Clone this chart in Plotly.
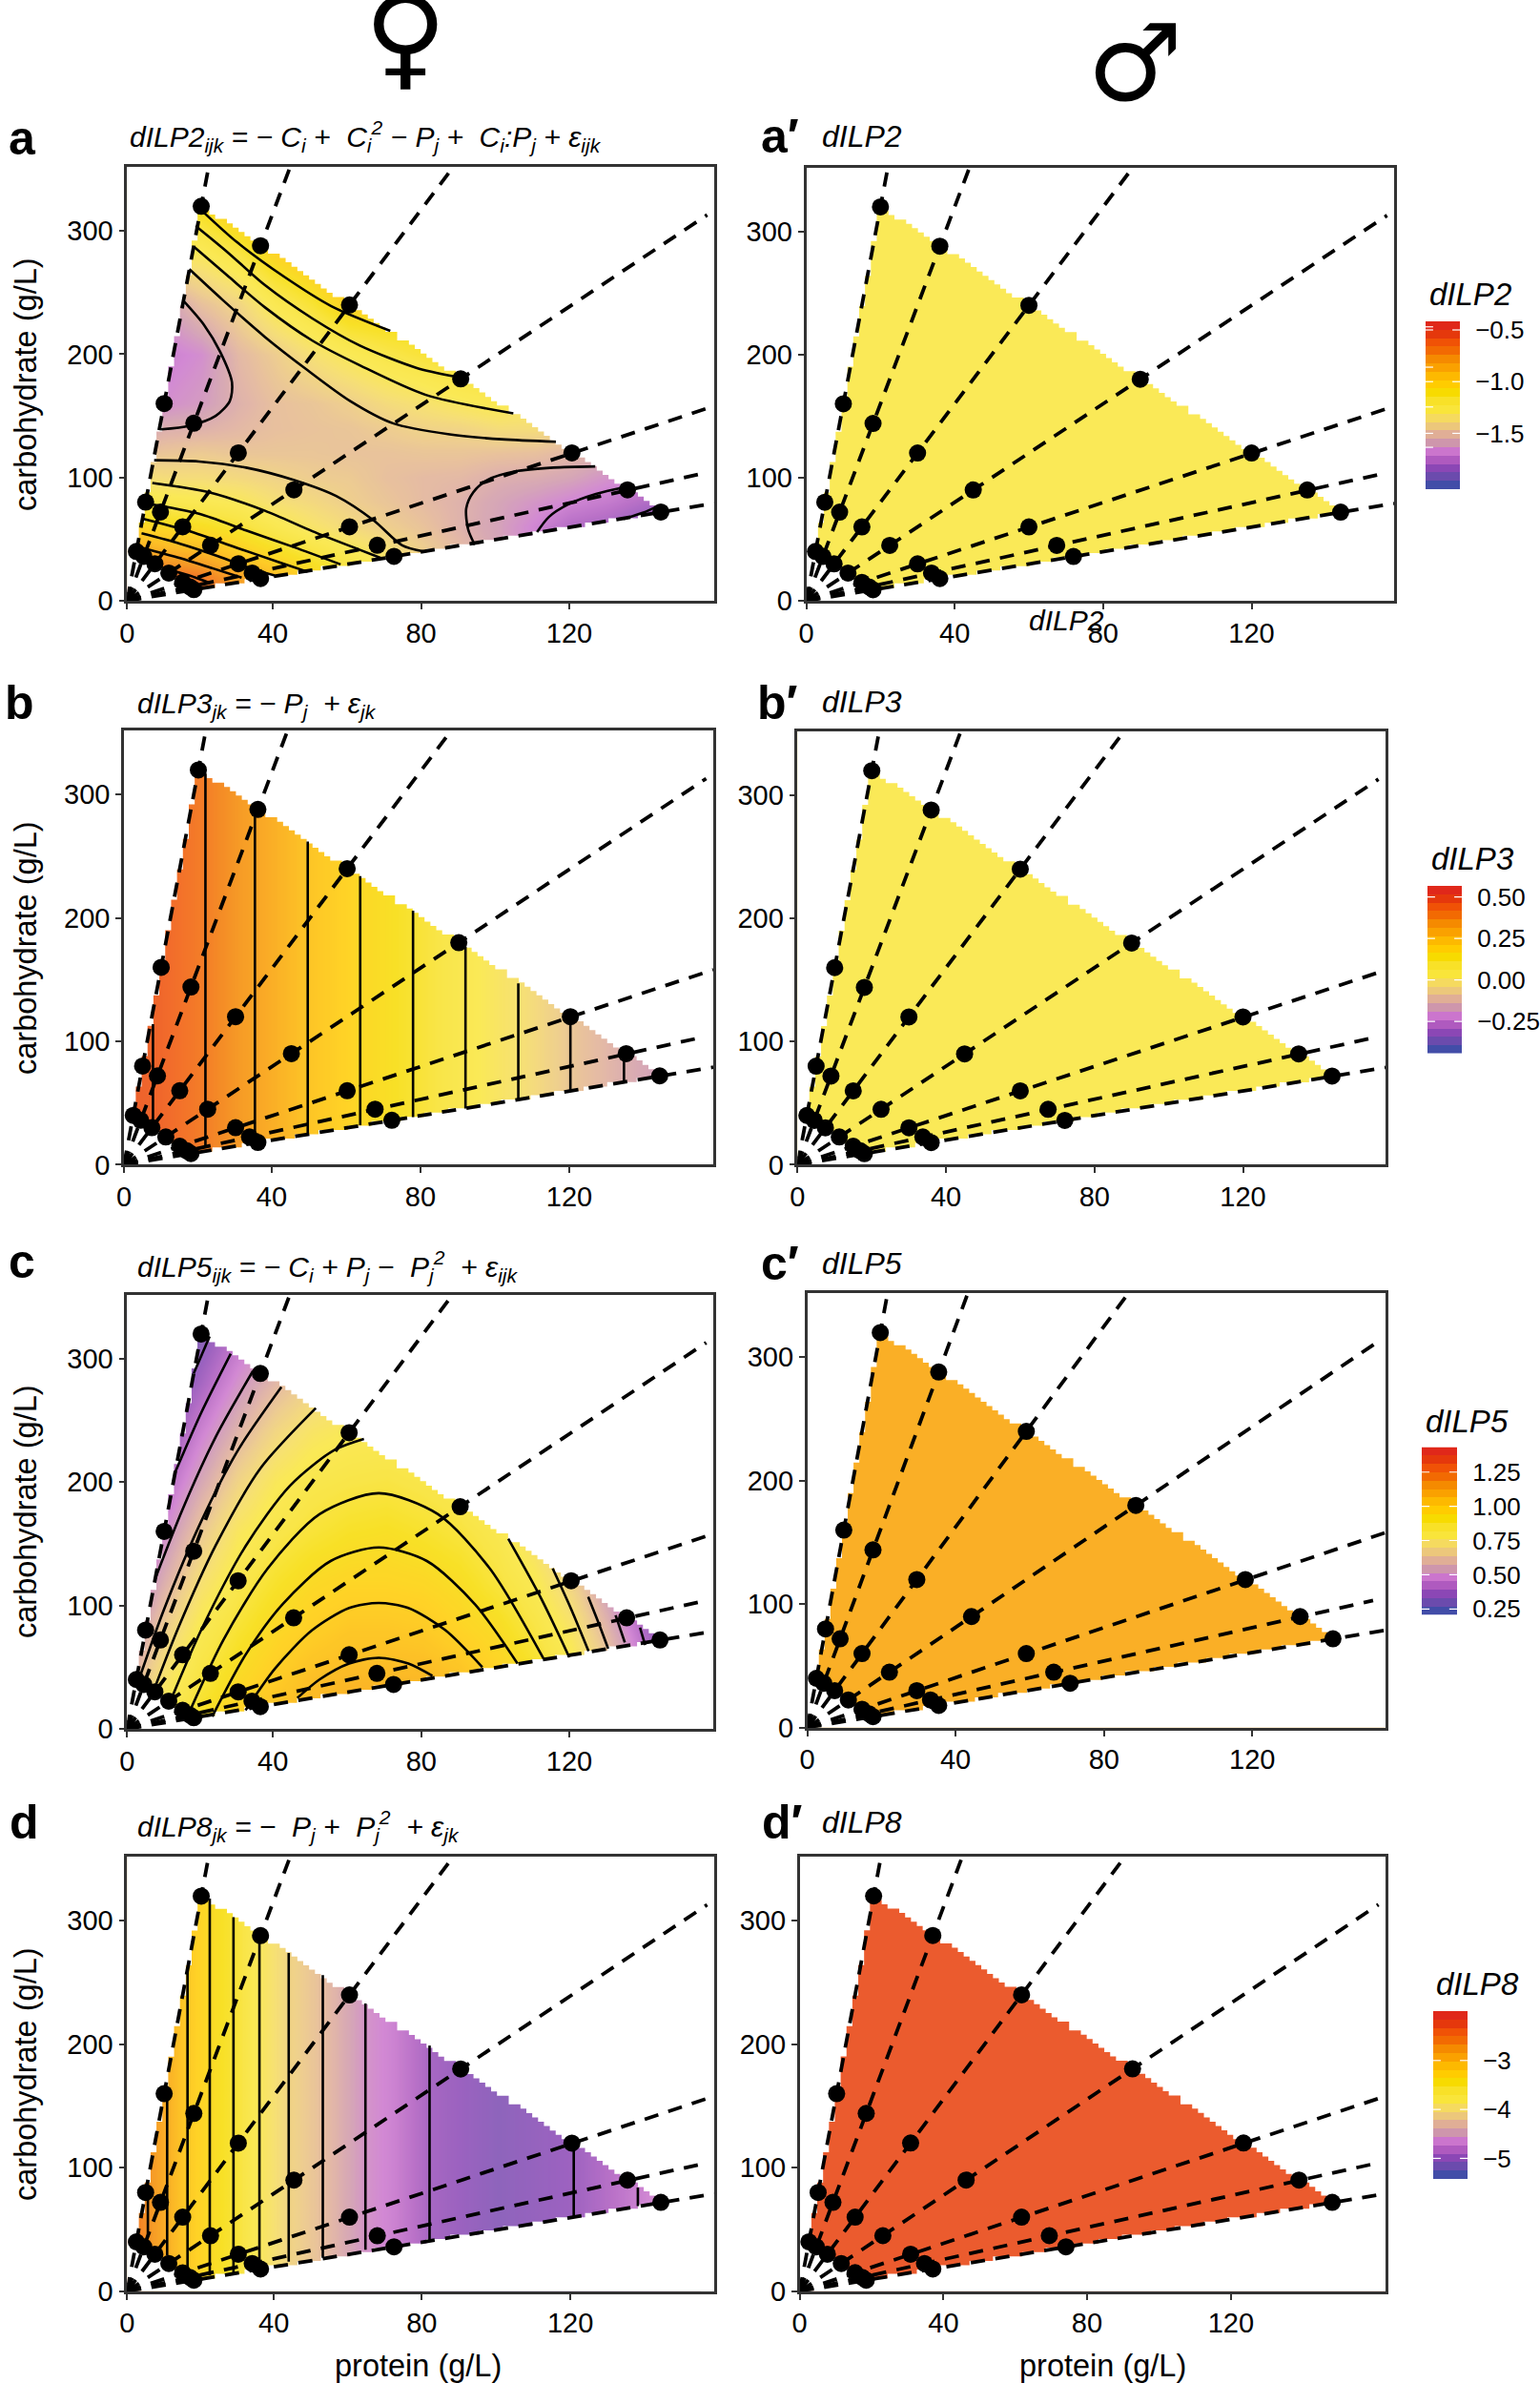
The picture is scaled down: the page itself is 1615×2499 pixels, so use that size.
import numpy as np
import plotly.graph_objects as go

# ---------- data ----------
point_protein = [0, 20, 36, 60, 90, 120, 135, 144, 10, 18, 30, 45, 60, 67.5, 72,
                 5, 9, 15, 22.5, 30, 33.75, 36, 2.5, 4.5, 7.5, 11.25, 15, 16.9, 18]
point_carb = [0, 320, 288, 240, 180, 120, 90, 72, 160, 144, 120, 90, 60, 45, 36,
              80, 72, 60, 45, 30, 22.5, 18, 40, 36, 30, 22.5, 15, 11.25, 9]
ray_end_protein = [22, 44, 88, 156.5, 158.4, 155, 158.4]
ray_end_carb = [352, 352, 352, 313, 158, 103, 79]
hull_protein = [20, 144, 18, 2.5]
hull_carb = [320, 72, 9, 40]

palette = ["#E0281A", "#E5380C", "#F05206", "#F26A02", "#F58A00", "#FAA100", "#FDB900",
           "#FFCC00", "#F7DB00", "#F8E128", "#F9E53A", "#F5DA5F", "#ECC77B", "#E0AE96",
           "#CE96AC", "#CB75CD", "#AF5ABF", "#8B47B5", "#6B4BAD", "#424DA8"]

# surfaces: one list per protein column, values on each legend's scale
grid_protein_10 = [0, 10, 20, 30, 40, 50, 60, 70, 80, 90, 100, 110, 120, 130, 140, 150]
dilp2_f_carb = [0, 20, 40, 60, 80, 100, 120, 140, 160, 200, 240, 280, 320]
dilp2_f_columns = [
    [-.5, -.6, -.8, -1.0, -1.2, -1.34, -1.5, -1.64, -1.77, -1.9, -1.98, -1.71, -1.3],
    [-.5, -.6, -.85, -1.05, -1.23, -1.37, -1.48, -1.57, -1.68, -1.73, -1.64, -1.3, -1.0],
    [-.55, -.66, -.88, -1.08, -1.25, -1.37, -1.46, -1.56, -1.64, -1.68, -1.5, -1.29, -1.07],
    [-.7, -.8, -.98, -1.14, -1.28, -1.39, -1.48, -1.53, -1.56, -1.53, -1.41, -1.19, -.95],
    [-.82, -.9, -1.08, -1.24, -1.35, -1.42, -1.48, -1.5, -1.5, -1.45, -1.25, -1.03, -.9],
    [-.95, -1.02, -1.17, -1.32, -1.39, -1.45, -1.48, -1.49, -1.48, -1.35, -1.14, -.95, -.9],
    [-1.05, -1.12, -1.26, -1.38, -1.44, -1.46, -1.49, -1.48, -1.44, -1.27, -1.0, -.9, -.9],
    [-1.2, -1.25, -1.34, -1.44, -1.48, -1.5, -1.49, -1.45, -1.38, -1.2, -1.0, -.9, -.9],
    [-1.25, -1.32, -1.44, -1.49, -1.52, -1.52, -1.48, -1.42, -1.34, -1.15, -1.0, -.9, -.9],
    [-1.35, -1.45, -1.52, -1.56, -1.56, -1.53, -1.48, -1.41, -1.29, -1.1, -1.0, -.9, -.9],
    [-1.5, -1.57, -1.61, -1.62, -1.61, -1.57, -1.49, -1.37, -1.25, -1.1, -1.0, -.9, -.9],
    [-1.64, -1.68, -1.71, -1.71, -1.66, -1.58, -1.5, -1.37, -1.3, -1.1, -1.0, -.9, -.9],
    [-1.77, -1.81, -1.84, -1.81, -1.71, -1.61, -1.53, -1.44, -1.3, -1.1, -1.0, -.9, -.9],
    [-1.84, -1.87, -1.87, -1.84, -1.75, -1.67, -1.57, -1.44, -1.3, -1.1, -1.0, -.9, -.9],
    [-1.98, -1.98, -1.98, -1.91, -1.81, -1.71, -1.57, -1.44, -1.3, -1.1, -1.0, -.9, -.9],
    [-1.98, -1.98, -1.98, -1.91, -1.81, -1.71, -1.57, -1.44, -1.3, -1.1, -1.0, -.9, -.9],
]
dilp5_f_carb = [0, 40, 80, 120, 160, 200, 240, 280, 320]
dilp5_f_columns = [
    [.65, .55, .46, .37, .3, .25, .22, .2, .2],
    [.82, .75, .66, .56, .47, .38, .3, .25, .22],
    [.93, .87, .81, .73, .64, .54, .45, .36, .29],
    [1.0, .95, .89, .83, .77, .68, .58, .49, .4],
    [1.07, 1.01, .96, .9, .84, .78, .69, .59, .5],
    [1.1, 1.06, 1.0, .95, .88, .83, .76, .67, .57],
    [1.12, 1.08, 1.03, .97, .91, .85, .79, .71, .62],
    [1.12, 1.08, 1.03, .97, .92, .86, .8, .72, .63],
    [1.11, 1.08, 1.02, .96, .9, .84, .78, .7, .6],
    [1.09, 1.05, .98, .93, .87, .81, .73, .64, .54],
    [1.05, .99, .94, .87, .82, .74, .65, .55, .46],
    [.97, .92, .86, .8, .72, .63, .53, .44, .35],
    [.88, .83, .76, .67, .57, .48, .38, .3, .25],
    [.77, .67, .58, .49, .4, .31, .25, .22, .2],
    [.55, .46, .37, .3, .25, .22, .2, .2, .2],
    [.32, .26, .23, .21, .2, .2, .2, .2, .2],
]
dilp3_f_protein = [0, 10, 20, 35, 50, 63, 78, 92, 106, 120, 134, 145, 158]
dilp3_f_values = [.49, .47, .42, .33, .24, .18, .12, .05, -.01, -.09, -.15, -.19, -.22]
dilp8_f_protein = [0, 5, 10, 16, 22, 30, 36, 44, 53, 64, 72, 82, 100, 120, 130, 140, 150]
dilp8_f_values = [-2.45, -2.63, -2.87, -3.15, -3.35, -3.56, -3.84, -4.1, -4.3, -4.62, -4.75,
                  -5.0, -5.15, -5.05, -4.9, -4.72, -4.5]
dilp2_m_value = -1.271
dilp3_m_value = 0.035
dilp5_m_value = 1.11
dilp8_m_value = -2.22

# contour lines (protein list, carbohydrate list)
dilp2_f_contours = [
    ([20.7, 29.6, 42.3, 55.1, 71], [315, 291, 263, 239, 219]),
    ([18.5, 27, 37.2, 50, 62.8, 78, 88.3], [304, 283, 256, 229, 207, 189, 182]),
    ([18.1, 27, 37.2, 50, 62.8, 80.6, 104.2], [287, 264, 238, 211, 191, 167, 152]),
    ([16.8, 25.8, 37.2, 48.7, 60.2, 71.7, 87, 101, 115.7], [269, 244, 214, 187, 162, 144, 135, 131, 129]),
    ([15.3, 20.7, 25.1, 28.3, 27.7, 23.9, 16.8, 9.2], [243, 224, 202, 177, 162, 150, 142, 139]),
    ([7.3, 19.4, 32.1, 44.9, 56.4, 66.6, 74.2, 80], [114, 113, 108, 98, 85, 65, 45, 40]),
    ([6.8, 22.1, 37.2, 50, 62.8, 68.5], [95.6, 88, 73, 56.4, 41.3, 34.6]),
    ([5.4, 19.4, 32.1, 44.9, 57.6], [78.9, 70.5, 57, 43.6, 29.5]),
    ([4.5, 16.8, 29.6, 41.1, 48.7], [66.4, 56.4, 43, 31.2, 23.5]),
    ([3.9, 14.3, 24.5, 33.4, 39.8], [54.7, 46.3, 36.2, 26.2, 20.5]),
    ([4.1, 14.3, 23.2, 30.9], [43, 34.6, 26.2, 18.8]),
    ([9.8, 16.8, 21.9], [26.2, 20.5, 15]),
    ([93.8, 92, 91.5, 93.4, 97.2, 104.8, 115, 126.3], [45.3, 58, 75, 88, 98, 105, 108, 109]),
    ([110.6, 113.8, 118.9, 126.5, 134.2], [55.7, 68, 78, 86.6, 92]),
    ([134, 139.3, 143], [66.4, 71.5, 76.5]),
]
dilp5_f_contours = [
    ([46, 52, 60, 68, 76, 82.5], [25, 40, 53, 57.6, 53, 43]),
    ([32, 40, 50, 60, 68, 76, 86, 96], [15, 49, 80, 98, 102, 98, 80, 50]),
    ([23, 32, 42, 55, 68, 81, 94, 105.5], [10, 60, 101, 136, 147, 136, 101, 53]),
    ([16, 26, 38, 52, 68, 84, 98, 112.5], [8, 72, 130, 174, 191, 174, 130, 57]),
    ([11.5, 20, 32, 44, 56, 64], [21, 80, 148, 197, 226, 235]),
    ([103, 112, 119.5], [154, 105, 58]),
    ([7.2, 14, 24, 36, 51], [31, 83, 149, 211, 260]),
    ([115, 120, 124.7], [130, 97, 63]),
    ([3.2, 10, 20, 30, 41.7], [40, 97, 168, 226, 277]),
    ([124.6, 127.5, 130], [107, 85, 65]),
    ([7.5, 15, 24, 34], [121, 178, 237, 290]),
    ([132, 134.5], [92, 70]),
    ([13, 20, 28], [208, 256, 304]),
    ([138.6, 140], [82, 68]),
    ([18, 22.3], [288, 318]),
]
dilp3_f_level_protein = [7.8, 21.9, 35.2, 49.4, 63.5, 77.7, 91.8, 106, 120, 134.4]
dilp3_f_level_top = [114, 317, 284, 262, 234, 206, 176.5, 147, 114.5, 85.5]
dilp3_f_level_bottom = [33, 14, 22, 25, 32, 38.6, 45.5, 52, 59, 67.5]
dilp8_f_level_protein = [5.6, 10.8, 16.3, 22.3, 28.7, 35.7, 43.6, 52.8, 64.3, 81.6, 120.5, 137.8]
dilp8_f_level_top = [74.6, 158, 262, 318, 303, 284, 274, 256, 233, 199, 117, 84]
dilp8_f_level_bottom = [44.7, 29, 19.5, 13, 13, 18, 24, 27, 33.7, 41.5, 60, 69]

# tick marks as they fall in each panel, and their labels
x_tick_labels = ["0", "40", "80", "120"]
y_tick_labels = ["0", "100", "200", "300"]
y_ticks = [0, 100, 200, 300]
x_ticks_a = [0, 39.3, 79.3, 119.3]
x_ticks_a_m = [0, 40, 80, 120]
x_ticks_b = [0, 39.7, 79.7, 119.7]
x_ticks_b_m = [0, 40, 80, 120]
x_ticks_c = [0, 39.4, 79.5, 119.5]
x_ticks_c_m = [0, 40.6, 81.3, 121.9]
x_ticks_d = [0, 39.6, 79.5, 119.6]
x_ticks_d_m = [0, 38.9, 77.7, 116.6]

legend2_ticks, legend2_labels = [-0.5, -1.0, -1.5], ["−0.5", "−1.0", "−1.5"]
legend2_extra_ticks = [-0.47, -0.86, -1.245, -1.635]
legend3_ticks, legend3_labels = [0.5, 0.25, 0, -0.25], ["0.50", "0.25", "0.00", "−0.25"]
legend5_ticks, legend5_labels = [1.25, 1.0, 0.75, 0.5, 0.25], ["1.25", "1.00", "0.75", "0.50", "0.25"]
legend8_ticks, legend8_labels = [-3, -4, -5], ["−3", "−4", "−5"]

# ---------- page geometry ----------
W, H = 1615, 2499
X_MAX, Y_MAX = 158.4, 352
FONT = "Liberation Sans"
colorscale = [[i / 19, c] for i, c in enumerate(palette[::-1])]


def rows(columns):
    return [list(r) for r in zip(*columns)]


def constant(v):
    return [[v, v], [v, v]]


def segs(pairs):
    xs, ys = [], []
    for px, py in pairs:
        xs += list(px) + [None]
        ys += list(py) + [None]
    return xs, ys


def verticals(p, top, bottom):
    return segs([([a, a], [t, b]) for a, t, b in zip(p, top, bottom)])


def mask_outline():
    """White surround of the tiled region, stepping on the tile grid."""
    dx, dy = X_MAX / 100, Y_MAX / 100
    px, py = list(hull_protein) + hull_protein[:1], list(hull_carb) + hull_carb[:1]
    xs, ys = [], []
    for (x0, y0, x1, y1) in zip(px[:-1], py[:-1], px[1:], py[1:]):
        for t in np.linspace(0, 1, 200):
            sx = round((x0 + t * (x1 - x0)) / dx) * dx
            sy = round((y0 + t * (y1 - y0)) / dy) * dy
            if xs and (xs[-1] != sx or ys[-1] != sy):
                xs.append(sx); ys.append(ys[-1])
            if not xs or xs[-1] != sx or ys[-1] != sy:
                xs.append(sx); ys.append(sy)
    ox, oy = [-9, 170, 170, -9, -9], [-9, -9, 365, 365, -9]
    return ox + xs + [xs[0], -9], oy + ys + [ys[0], -9]


panels = [
    dict(box=(133.3, 749, 175, 630), xt=x_ticks_a, sx=grid_protein_10, sy=dilp2_f_carb,
         z=rows(dilp2_f_columns), lim=(-2.04, -0.417), lines=segs(dilp2_f_contours)),
    dict(box=(845.5, 1462, 175.6, 630), xt=x_ticks_a_m, sx=[0, 158.4], sy=[0, 352],
         z=constant(dilp2_m_value), lim=(-2.04, -0.417), lines=None),
    dict(box=(130, 748, 766, 1221.4), xt=x_ticks_b, sx=dilp3_f_protein, sy=[0, 352],
         z=[dilp3_f_values, dilp3_f_values], lim=(-0.443, 0.567),
         lines=verticals(dilp3_f_level_protein, dilp3_f_level_top, dilp3_f_level_bottom)),
    dict(box=(836.4, 1453, 766.8, 1221.4), xt=x_ticks_b_m, sx=[0, 158.4], sy=[0, 352],
         z=constant(dilp3_m_value), lim=(-0.443, 0.567), lines=None),
    dict(box=(133.3, 748, 1357.5, 1813), xt=x_ticks_c, sx=grid_protein_10, sy=dilp5_f_carb,
         z=rows(dilp5_f_columns), lim=(0.206, 1.433), lines=segs(dilp5_f_contours)),
    dict(box=(846.6, 1453, 1356, 1811.8), xt=x_ticks_c_m, sx=[0, 158.4], sy=[0, 352],
         z=constant(dilp5_m_value), lim=(0.206, 1.433), lines=None),
    dict(box=(133.3, 749, 1947, 2402.8), xt=x_ticks_d, sx=dilp8_f_protein, sy=[0, 352],
         z=[dilp8_f_values, dilp8_f_values], lim=(-5.42, -1.99),
         lines=verticals(dilp8_f_level_protein, dilp8_f_level_top, dilp8_f_level_bottom)),
    dict(box=(838.6, 1453, 1946.8, 2402.8), xt=x_ticks_d_m, sx=[0, 158.4], sy=[0, 352],
         z=constant(dilp8_m_value), lim=(-5.42, -1.99), lines=None),
]

legends = [
    dict(box=(1495, 1531, 337, 513), lim=(-2.04, -0.417), ticks=legend2_ticks, labels=legend2_labels, extra=legend2_extra_ticks),
    dict(box=(1497, 1533, 929, 1104.6), lim=(-0.443, 0.567), ticks=legend3_ticks, labels=legend3_labels, extra=[]),
    dict(box=(1491, 1528, 1517.5, 1693.6), lim=(0.206, 1.433), ticks=legend5_ticks, labels=legend5_labels, extra=[]),
    dict(box=(1503, 1539, 2109, 2285), lim=(-5.42, -1.99), ticks=legend8_ticks, labels=legend8_labels, extra=[]),
]

fig = go.Figure()
layout = {}
n = 0
mx, my = mask_outline()
rx, ry = segs([([0, a], [0, b]) for a, b in zip(ray_end_protein, ray_end_carb)])


def ax_names(k):
    s = "" if k == 1 else str(k)
    return "x" + s, "y" + s, "xaxis" + s, "yaxis" + s


for p in panels:
    n += 1
    xr, yr, xk, yk = ax_names(n)
    l, r, t, b = p["box"]
    fig.add_trace(go.Heatmap(x=p["sx"], y=p["sy"], z=p["z"], zmin=p["lim"][0], zmax=p["lim"][1],
                             colorscale=colorscale, showscale=False, zsmooth="best", opacity=0.85,
                             hoverinfo="skip", xaxis=xr, yaxis=yr))
    fig.add_trace(go.Scatter(x=mx, y=my, mode="none", fill="toself", fillcolor="white",
                             hoverinfo="skip", showlegend=False, xaxis=xr, yaxis=yr))
    if p["lines"]:
        fig.add_trace(go.Scatter(x=p["lines"][0], y=p["lines"][1], mode="lines",
                                 line=dict(color="black", width=2.6, shape="spline", smoothing=0.8),
                                 hoverinfo="skip", showlegend=False, xaxis=xr, yaxis=yr))
    fig.add_trace(go.Scatter(x=rx, y=ry, mode="lines",
                             line=dict(color="black", width=3.8, dash="15px,11px"),
                             hoverinfo="skip", showlegend=False, xaxis=xr, yaxis=yr))
    fig.add_trace(go.Scatter(x=point_protein, y=point_carb, mode="markers",
                             marker=dict(color="black", size=18), hoverinfo="skip",
                             showlegend=False, xaxis=xr, yaxis=yr))
    common = dict(ticks="outside", ticklen=6, tickwidth=1.5, tickcolor="#333", showgrid=False,
                  zeroline=False, showline=True, linecolor="#333", linewidth=2.5, mirror=True,
                  tickfont=dict(family=FONT, size=29, color="black"))
    layout[xk] = dict(domain=[l / W, r / W], range=[0, X_MAX], anchor=yr, tickmode="array",
                      tickvals=p["xt"], ticktext=x_tick_labels, **common)
    layout[yk] = dict(domain=[1 - b / H, 1 - t / H], range=[0, Y_MAX], anchor=xr, tickmode="array",
                      tickvals=y_ticks, ticktext=y_tick_labels, **common)

for g in legends:
    n += 1
    xr, yr, xk, yk = ax_names(n)
    l, r, t, b = g["box"]
    lo, hi = g["lim"]
    band_values = [lo + i / 19 * (hi - lo) for i in range(20)]
    fig.add_trace(go.Heatmap(x=[0, 1], y=list(np.linspace(lo, hi, 21)), z=[[v] for v in band_values],
                             zmin=lo, zmax=hi, colorscale=colorscale, showscale=False,
                             hoverinfo="skip", xaxis=xr, yaxis=yr))
    both = segs([([0, .22], [v, v]) for v in g["ticks"]] + [([.78, 1], [v, v]) for v in g["ticks"]]
                + [([0, .22], [v, v]) for v in g["extra"]])
    fig.add_trace(go.Scatter(x=both[0], y=both[1], mode="lines", line=dict(color="white", width=1.2),
                             hoverinfo="skip", showlegend=False, xaxis=xr, yaxis=yr))
    layout[xk] = dict(domain=[l / W, r / W], range=[0, 1], anchor=yr, visible=False)
    layout[yk] = dict(domain=[1 - b / H, 1 - t / H], range=[lo, hi], anchor=xr, side="right",
                      tickmode="array", tickvals=g["ticks"], ticktext=g["labels"], ticks="outside",
                      ticklen=10, tickcolor="rgba(0,0,0,0)", showgrid=False, zeroline=False, showline=False,
                      tickfont=dict(family=FONT, size=26, color="black"))


def note(text, x, y, size, family=FONT, xanchor="left", angle=0, color="black"):
    return dict(text=text, x=x / W, y=1 - y / H, xref="paper", yref="paper", xanchor=xanchor,
                yanchor="middle", showarrow=False, textangle=angle,
                font=dict(family=family, size=size, color=color))


eq = [
    ("<i>dILP2<sub>ijk</sub> = − C<sub>i</sub> +  C<sub>i</sub><sup>2</sup> − P<sub>j</sub> +  "
     "C<sub>i</sub>:P<sub>j</sub> + ε<sub>ijk</sub></i>", 134, 143),
    ("<i>dILP3<sub>jk</sub> = − P<sub>j</sub>  + ε<sub>jk</sub></i>", 142, 739),
    ("<i>dILP5<sub>ijk</sub> = − C<sub>i</sub> + P<sub>j</sub> −  P<sub>j</sub><sup>2</sup>  + ε<sub>ijk</sub></i>", 142, 1328),
    ("<i>dILP8<sub>jk</sub> = −  P<sub>j</sub> +  P<sub>j</sub><sup>2</sup>  + ε<sub>jk</sub></i>", 142, 1915),
]
ann = [note(t, x, y, 30) for t, x, y in eq]
for t, x, y in [("dILP2", 860, 143), ("dILP3", 860, 736), ("dILP5", 860, 1325), ("dILP8", 860, 1911)]:
    ann.append(note(f"<i>{t}</i>", x, y, 32))
for t, x, y in [("a", 7, 145), ("b", 3, 737), ("c", 7, 1323), ("d", 8, 1911),
                ("a′", 796, 143), ("b′", 792, 737), ("c′", 796, 1325), ("d′", 797, 1911)]:
    ann.append(note(f"<b>{t}</b>", x, y, 50))
for t, x, y in [("dILP2", 1497, 308), ("dILP3", 1499, 900), ("dILP5", 1493, 1490), ("dILP8", 1504, 2080)]:
    ann.append(note(f"<i>{t}</i>", x, y, 33))
ann.append(note("<i>dILP2</i>", 1077, 650, 30))
for y in (403, 994, 1585, 2175):
    ann.append(note("carbohydrate (g/L)", 27, y, 32.5, xanchor="center", angle=-90))
ann.append(note("protein (g/L)", 438, 2481, 32.5, xanchor="center"))
ann.append(note("protein (g/L)", 1156, 2481, 32.5, xanchor="center"))
ann.append(note("♀", 425, 38, 118, family="DejaVu Sans", xanchor="center"))
ann.append(note("♂", 1190, 66, 112, family="DejaVu Sans", xanchor="center"))

fig.update_layout(width=W, height=H, autosize=False,
                  margin=dict(l=0, r=0, t=0, b=0, autoexpand=False),
                  paper_bgcolor="white", plot_bgcolor="white", showlegend=False,
                  annotations=ann, **layout)
fig.write_html("out.html", config={"displayModeBar": False},
               post_script="document.body.style.margin='0';document.body.style.overflow='hidden';")
